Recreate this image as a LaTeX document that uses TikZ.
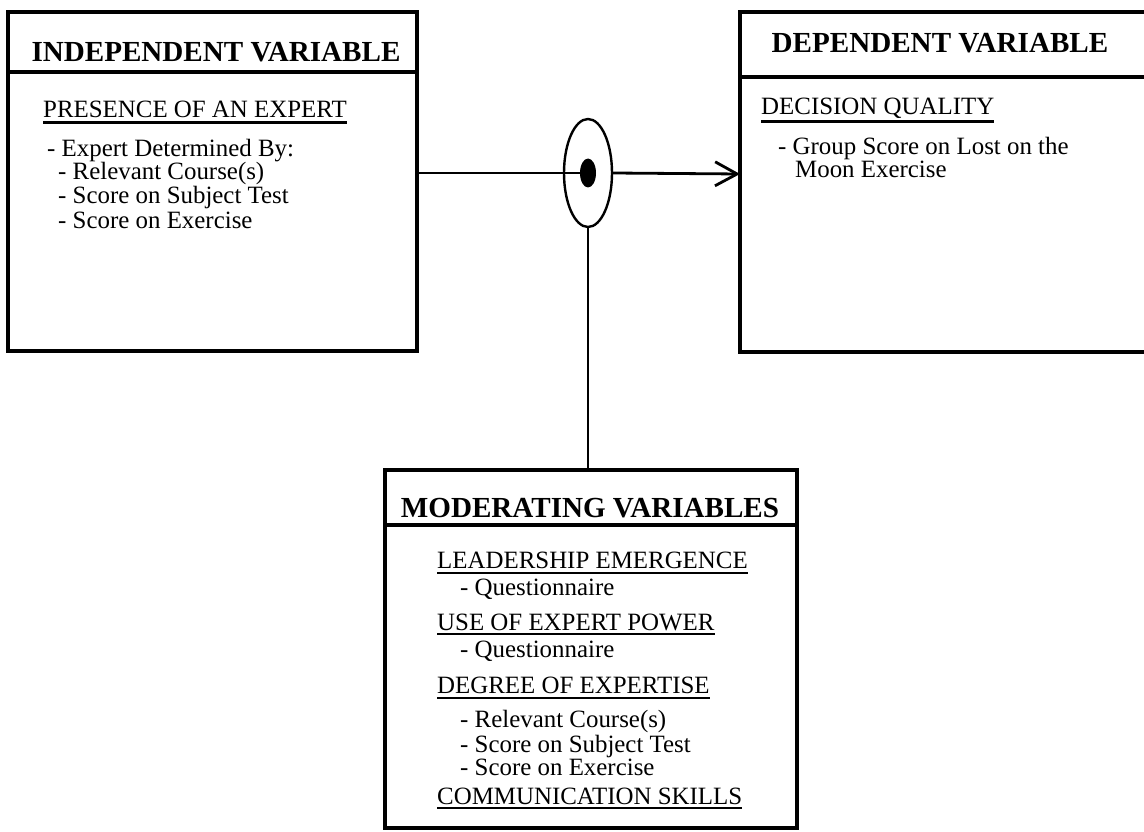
\documentclass[tikz,border=0pt]{standalone}
\usepackage{fontspec}
\setmainfont{Liberation Serif}
\usetikzlibrary{shapes.geometric,arrows.meta}

% type sizes (1pt of picture = 1 unit)
\newcommand\hdfont{\fontsize{29.1}{30}\selectfont\bfseries}
\newcommand\bdfont{\fontsize{24.9}{25}\selectfont}
% underline a named text node, #2 = gap below the baseline
\newcommand\ulnode[2]{\draw[uline] ([yshift=-#2pt]#1.base west) -- ([yshift=-#2pt]#1.base east);}

\tikzset{
  varbox/.style={draw, rectangle, line width=3.2pt, inner sep=0pt},
  hdr/.style={inner sep=0pt, anchor=base, font=\hdfont},
  topic/.style={inner sep=0pt, anchor=base west, font=\bdfont},
  item/.style={inner sep=0pt, anchor=base west, font=\bdfont},
  uline/.style={line width=2.6pt},
  hrule/.style={line width=3.6pt},
  link/.style={line width=2.8pt},
}

\begin{document}
\begin{tikzpicture}[x=1pt,y=-1pt]
\useasboundingbox (0,0) rectangle (1144,832);
\fill[white] (0,0) rectangle (1144,832);

% ---- independent variable ----
\node[varbox, minimum width=409pt, minimum height=339pt] (indep) at (212.5,181.5) {};
\draw[hrule] (8,72) -- (417,72);
\node[hdr] (indephd) at (216,62) {INDEPENDENT VARIABLE};
\node[topic] (presence) at (43,118) {PRESENCE OF AN EXPERT};
\ulnode{presence}{4.5}
\node[item] (detby) at (47,157) {- Expert Determined By:};
\node[item] (icourse) at (58,180) {- Relevant Course(s)};
\node[item] (isubj) at (58,204) {- Score on Subject Test};
\node[item] (iexer) at (58,229) {- Score on Exercise};

% ---- dependent variable (runs off the right edge) ----
\draw[line width=3.2pt] (1144,12) -- (740,12) -- (740,352) -- (1144,352);
\draw[line width=4.6pt] (740,77) -- (1144,77);
\coordinate (depin) at (740,174);
\node[hdr] (dephd) at (940,53) {DEPENDENT VARIABLE};
\node[topic] (quality) at (761,115) {DECISION QUALITY};
\ulnode{quality}{6.5}
\node[item] (group) at (778,155) {- Group Score on Lost on the};
\node[item] (moon) at (795,178) {Moon Exercise};

% ---- moderating variables ----
\node[varbox, minimum width=412pt, minimum height=358pt] (moder) at (591,649) {};
\draw[hrule] (385,525) -- (797,525);
\node[hdr] (moderhd) at (590,517) {MODERATING VARIABLES};
\node[topic] (lead) at (437,568) {LEADERSHIP EMERGENCE};
\ulnode{lead}{5}
\node[item] (q1) at (460,595) {- Questionnaire};
\node[topic] (power) at (437,630) {USE OF EXPERT POWER};
\ulnode{power}{4}
\node[item] (q2) at (460,657) {- Questionnaire};
\node[topic] (degree) at (437,693) {DEGREE OF EXPERTISE};
\ulnode{degree}{5}
\node[item] (mcourse) at (460,727) {- Relevant Course(s)};
\node[item] (msubj) at (460,752) {- Score on Subject Test};
\node[item] (mexer) at (460,775) {- Score on Exercise};
\node[topic] (comm) at (437,804) {COMMUNICATION SKILLS};
\ulnode{comm}{4}

% ---- moderator junction ----
\node[draw, ellipse, line width=2.4pt, minimum width=48pt, minimum height=108pt, inner sep=0pt] (hub) at (588,173) {};
\node[fill, ellipse, minimum width=16pt, minimum height=29pt, inner sep=0pt] (dot) at (588,173) {};

% ---- connectors ----
\draw[link] (indep.east |- dot.center) -- (dot.center);
\draw[link, -{Straight Barb[length=22pt,width=24pt,line width=2.8pt]}] (hub.east) -- (depin);
\draw[link] (hub.south) -- (hub.south |- moder.north);
\end{tikzpicture}
\end{document}
